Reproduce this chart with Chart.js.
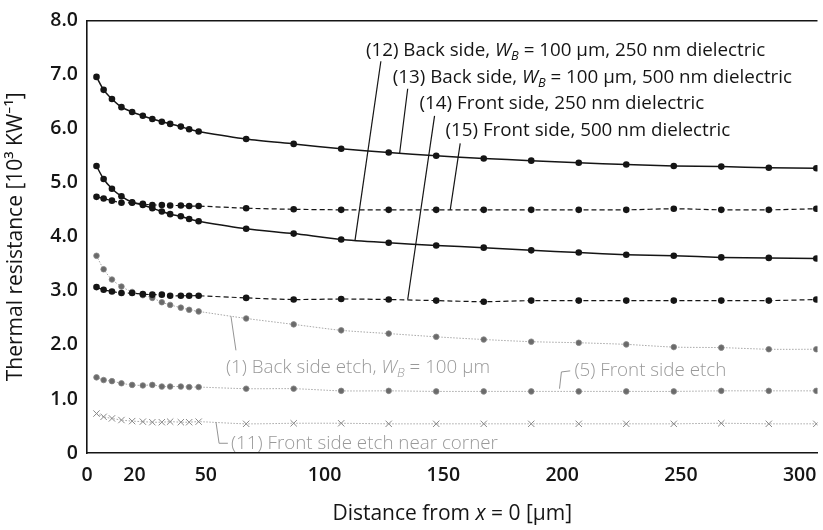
<!DOCTYPE html>
<html>
<head>
<meta charset="utf-8">
<script src="https://cdn.jsdelivr.net/npm/chart.js@4.4.1/dist/chart.umd.min.js"></script>
<style>
  html, body { margin: 0; padding: 0; background: #fff; }
  #wrap { width: 823px; height: 530px; }
</style>
</head>
<body>
<div id="wrap"><canvas id="c" width="823" height="530"></canvas></div>
<script>
const FONT = '"Open Sans", "Noto Sans", sans-serif';

// distance from x = 0 [um]
const distance = [4, 7, 10.5, 14.5, 19, 23.5, 27.5, 31.5, 35, 39.5, 43, 47,
  67, 87, 107, 127, 147, 167, 187, 207, 227, 247, 267, 287, 307];

// thermal resistance [10^3 K/W]
const back500 = [6.96, 6.72, 6.55, 6.40, 6.31, 6.24, 6.18, 6.13, 6.09, 6.04, 5.99, 5.95,
  5.81, 5.72, 5.63, 5.56, 5.50, 5.45, 5.41, 5.37, 5.34, 5.31, 5.30, 5.28, 5.27];      // (13)
const back250 = [5.31, 5.07, 4.89, 4.75, 4.64, 4.59, 4.53, 4.47, 4.42, 4.38, 4.33, 4.29,
  4.15, 4.06, 3.95, 3.89, 3.84, 3.80, 3.75, 3.71, 3.67, 3.65, 3.62, 3.61, 3.60];      // (12)
const front500 = [4.74, 4.71, 4.67, 4.63, 4.63, 4.61, 4.59, 4.59, 4.58, 4.58, 4.57, 4.57,
  4.53, 4.51, 4.50, 4.50, 4.50, 4.50, 4.50, 4.50, 4.50, 4.52, 4.50, 4.50, 4.52];      // (15)
const front250 = [3.07, 3.02, 2.99, 2.96, 2.96, 2.94, 2.93, 2.93, 2.91, 2.91, 2.91, 2.91,
  2.87, 2.84, 2.85, 2.84, 2.82, 2.80, 2.82, 2.82, 2.82, 2.82, 2.82, 2.82, 2.84];      // (14)
const backEtch = [3.65, 3.40, 3.21, 3.08, 2.98, 2.92, 2.87, 2.79, 2.74, 2.69, 2.65, 2.62,
  2.49, 2.38, 2.27, 2.21, 2.15, 2.10, 2.06, 2.04, 2.01, 1.96, 1.95, 1.92, 1.92];      // (1)
const frontEtch = [1.40, 1.35, 1.33, 1.29, 1.26, 1.25, 1.26, 1.23, 1.23, 1.23, 1.22, 1.22,
  1.19, 1.19, 1.15, 1.15, 1.14, 1.14, 1.14, 1.14, 1.14, 1.14, 1.15, 1.15, 1.15];      // (5)
const cornerEtch = [0.73, 0.67, 0.64, 0.61, 0.59, 0.58, 0.57, 0.57, 0.58, 0.57, 0.57, 0.58,
  0.54, 0.55, 0.55, 0.54, 0.54, 0.54, 0.54, 0.54, 0.54, 0.54, 0.55, 0.54, 0.54];      // (11)

const xTicks = [0, 20, 50, 100, 150, 200, 250, 300];
const yTicks = [0, 1, 2, 3, 4, 5, 6, 7, 8];

const pts = arr => arr.map((v, i) => ({ x: distance[i], y: v }));

const BLACK = '#151515';
const GRAY = '#999999';

function blackSeries(arr, dashed) {
  return {
    data: pts(arr), borderColor: BLACK, borderWidth: dashed ? 1.2 : 1.5,
    borderDash: dashed ? [5, 3] : [], tension: 0.25,
    pointRadius: 3.3, pointBackgroundColor: BLACK, pointBorderColor: BLACK, pointBorderWidth: 0
  };
}
function graySeries(arr, style) {
  return {
    data: pts(arr), borderColor: '#a8a8a8', borderWidth: 1, borderDash: [1.5, 1.5], tension: 0.25,
    pointStyle: style, pointRadius: style === 'crossRot' ? 4.5 : 2.8,
    pointBackgroundColor: '#6a6a6a', pointBorderColor: '#888', pointBorderWidth: style === 'crossRot' ? 1 : 0.8
  };
}

// text labels with leader lines, anchored in data units
const W_B = [{ t: 'W', it: true }, { t: 'B', it: true, sub: true }];
const notes = [
  { parts: [{ t: '(12) Back side, ' }, ...W_B, { t: ' = 100 µm, 250 nm dielectric' }],
    at: [117.4, 7.44], leader: [[123.7, 7.25], [112.8, 3.93]], color: BLACK },
  { parts: [{ t: '(13) Back side, ' }, ...W_B, { t: ' = 100 µm, 500 nm dielectric' }],
    at: [128.7, 6.94], leader: [[135, 6.74], [131.6, 5.55]], color: BLACK },
  { parts: [{ t: '(14) Front side, 250 nm dielectric' }],
    at: [140, 6.47], leader: [[146.3, 6.24], [135, 2.84]], color: BLACK },
  { parts: [{ t: '(15) Front side, 500 nm dielectric' }],
    at: [150.9, 5.97], leader: [[157.1, 5.73], [152.9, 4.50]], color: BLACK },
  { parts: [{ t: '(1) Back side etch, ' }, ...W_B, { t: ' = 100 µm' }],
    at: [58.5, 1.575], leader: [[60.6, 2.53], [62.7, 1.90]], color: GRAY },
  { parts: [{ t: '(5) Front side etch' }],
    at: [205.2, 1.52], leader: [[198.9, 1.19], [199.7, 1.50], [203.4, 1.52]], color: GRAY },
  { parts: [{ t: '(11) Front side etch near corner' }],
    at: [60.6, 0.18], leader: [[54.3, 0.57], [55.6, 0.18], [59.3, 0.18]], color: GRAY }
];

function drawRich(ctx, x, y, parts, size, color, weight) {
  let cx = x;
  ctx.fillStyle = color;
  ctx.textBaseline = 'middle';
  ctx.textAlign = 'left';
  parts.forEach(p => {
    const fs = p.sub ? size * 0.68 : size;
    ctx.font = (p.it ? 'italic ' : '') + (weight || 400) + ' ' + fs + 'px ' + FONT;
    ctx.fillText(p.t, cx, y + (p.sub ? size * 0.3 : 0));
    cx += ctx.measureText(p.t).width;
  });
  return cx - x;
}

const decor = {
  id: 'decor',
  afterDatasetsDraw(chart) {
    const { ctx, chartArea: a, scales: { x, y } } = chart;
    ctx.save();
    // top frame line
    ctx.strokeStyle = BLACK; ctx.lineWidth = 1.5;
    ctx.beginPath(); ctx.moveTo(a.left, a.top); ctx.lineTo(a.right, a.top); ctx.stroke();

    notes.forEach(n => {
      const gray = n.color !== BLACK;
      ctx.strokeStyle = gray ? '#888' : n.color;
      ctx.lineWidth = gray ? 0.9 : 1.2;
      ctx.beginPath();
      n.leader.forEach((p, i) => {
        const px = x.getPixelForValue(p[0]), py = y.getPixelForValue(p[1]);
        if (i === 0) ctx.moveTo(px, py); else ctx.lineTo(px, py);
      });
      ctx.stroke();
      drawRich(ctx, x.getPixelForValue(n.at[0]), y.getPixelForValue(n.at[1]), n.parts, 18.8, n.color, gray ? 300 : 400);
    });

    // x axis title with italic x
    const title = [{ t: 'Distance from ' }, { t: 'x', it: true }, { t: ' = 0 [µm]' }];
    ctx.globalAlpha = 0;
    const w = drawRich(ctx, 0, 0, title, 21, BLACK);
    ctx.globalAlpha = 1;
    drawRich(ctx, (a.left + a.right) / 2 - w / 2, 514, title, 21, BLACK);
    ctx.restore();
  }
};

new Chart(document.getElementById('c'), {
  type: 'scatter',
  data: {
    datasets: [
      blackSeries(back500, false),
      blackSeries(back250, false),
      blackSeries(front500, true),
      blackSeries(front250, true),
      graySeries(backEtch, 'circle'),
      graySeries(frontEtch, 'circle'),
      graySeries(cornerEtch, 'crossRot')
    ].map(d => Object.assign(d, { showLine: true }))
  },
  options: {
    responsive: false,
    animation: false,
    devicePixelRatio: 1,
    layout: { padding: { top: 16, right: 0, left: 0, bottom: 0 } },
    plugins: { legend: { display: false }, tooltip: { enabled: false } },
    scales: {
      x: {
        type: 'linear', min: 0, max: 307.5,
        afterBuildTicks: s => { s.ticks = xTicks.map(v => ({ value: v })); },
        afterFit: s => { s.height = 77; s.paddingLeft = 0; s.paddingRight = 0; },
        grid: { display: false, drawTicks: false },
        border: { display: true, color: BLACK, width: 1.6 },
        ticks: { color: BLACK, padding: 11, maxRotation: 0, autoSkip: false,
          font: { family: FONT, size: 19.5, weight: 600 } }
      },
      y: {
        min: 0, max: 8,
        afterBuildTicks: s => { s.ticks = yTicks.map(v => ({ value: v })); },
        afterFit: s => { s.width = 87; },
        grid: { display: false, drawTicks: false },
        border: { display: true, color: BLACK, width: 1.6 },
        ticks: { color: BLACK, padding: 9,
          callback: v => v === 0 ? '0' : v.toFixed(1),
          font: { family: FONT, size: 19.5, weight: 600 } },
        title: { display: true, text: 'Thermal resistance [10³ KW⁻¹]', color: BLACK,
          padding: { top: 3, bottom: 0 }, font: { family: FONT, size: 21 } }
      }
    }
  },
  plugins: [decor]
});
</script>
</body>
</html>
